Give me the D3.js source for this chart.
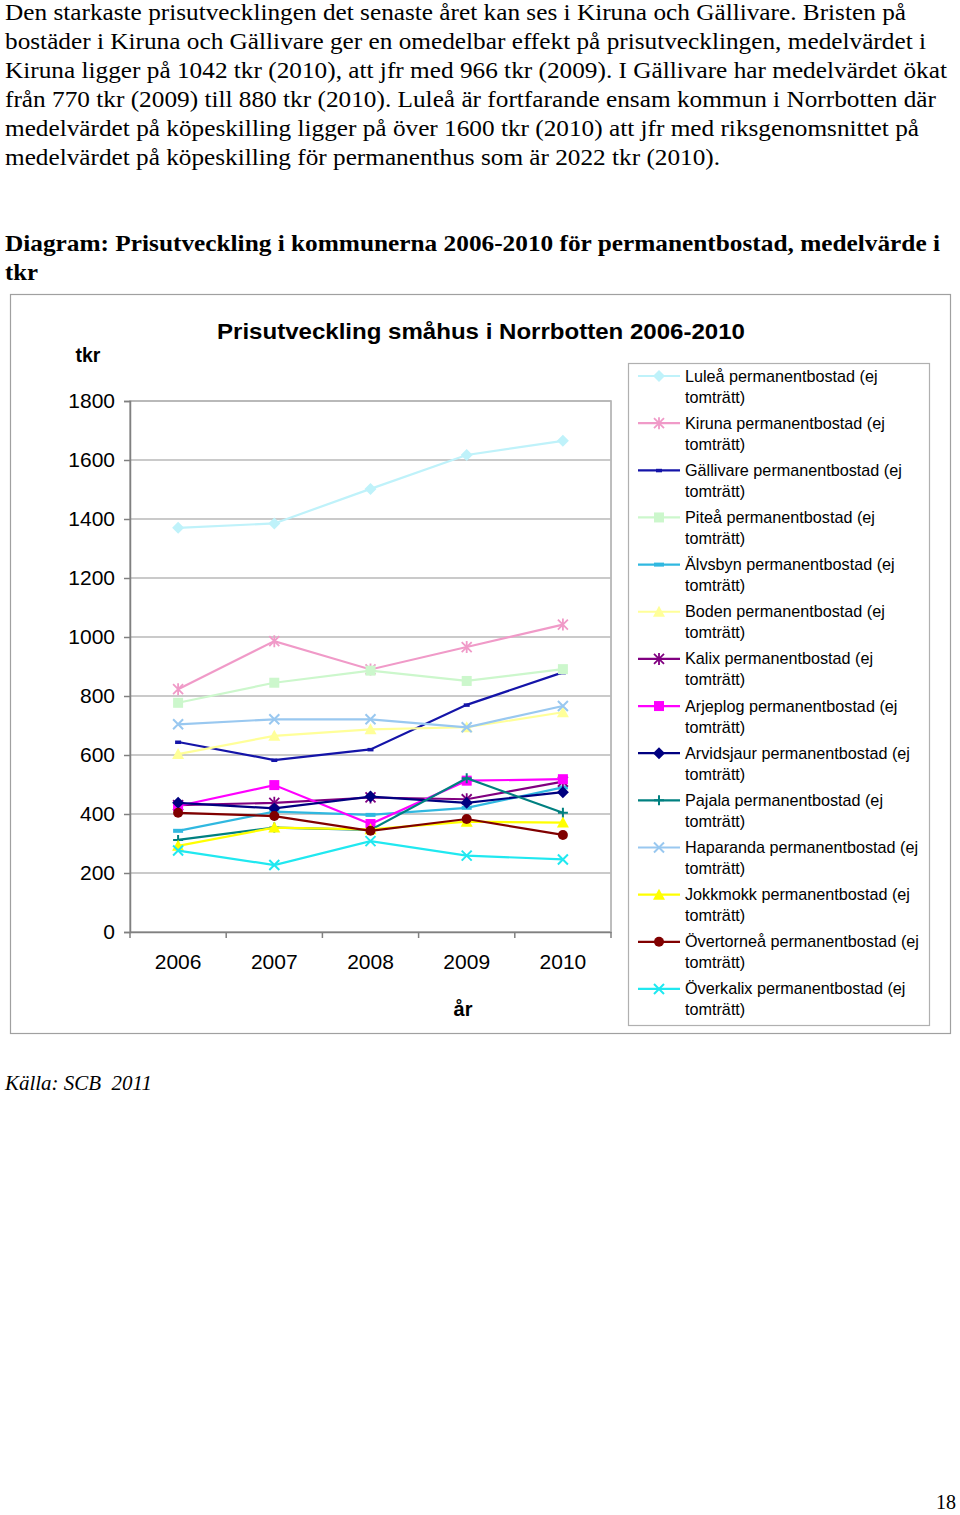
<!DOCTYPE html>
<html><head><meta charset="utf-8">
<script src="https://cdn.jsdelivr.net/npm/d3@7"></script>
<style>body{margin:0;background:#fff}svg{display:block}</style>
</head><body>
<svg id="c" width="960" height="1515"></svg>
<script>
const years = ["2006","2007","2008","2009","2010"];
const yTicks = [0,200,400,600,800,1000,1200,1400,1600,1800];
const seriesNames = ["Luleå","Kiruna","Gällivare","Piteå","Älvsbyn","Boden","Kalix","Arjeplog","Arvidsjaur","Pajala","Haparanda","Jokkmokk","Övertorneå","Överkalix"];
const lulea      = [1370,1385,1502,1617,1665];
const kiruna     = [823,986,890,966,1042];
const gallivare  = [644,583,619,770,880];
const pitea      = [777,845,886,851,891];
const alvsbyn    = [343,408,397,421,490];
const boden      = [603,665,687,694,745];
const kalix      = [430,438,456,450,510];
const arjeplog   = [427,498,366,513,518];
const arvidsjaur = [438,419,459,438,474];
const pajala     = [312,354,346,521,404];
const haparanda  = [704,721,721,694,766];
const jokkmokk   = [292,354,348,374,371];
const overtornea = [404,393,343,383,329];
const overkalix  = [276,227,308,259,246];
const seriesValues = [lulea,kiruna,gallivare,pitea,alvsbyn,boden,kalix,arjeplog,arvidsjaur,pajala,haparanda,jokkmokk,overtornea,overkalix];
const colors = ["#bff2fa","#f09ac8","#1414a8","#ccf7cc","#30b8e0","#ffff99","#800080","#ff00ff","#000080","#008080","#99c8f0","#ffff00","#800000","#20e8f0"];
const markers = ["diamond","asterisk","smalldash","square","dash","triangle","asterisk","square","diamond","plus","x","triangle","circle","x"];

const paragraph = [
 "Den starkaste prisutvecklingen det senaste året kan ses i Kiruna och Gällivare. Bristen på",
 "bostäder i Kiruna och Gällivare ger en omedelbar effekt på prisutvecklingen, medelvärdet i",
 "Kiruna ligger på 1042 tkr (2010), att jfr med 966 tkr (2009). I Gällivare har medelvärdet ökat",
 "från 770 tkr (2009) till 880 tkr (2010). Luleå är fortfarande ensam kommun i Norrbotten där",
 "medelvärdet på köpeskilling ligger på över 1600 tkr (2010) att jfr med riksgenomsnittet på",
 "medelvärdet på köpeskilling för permanenthus som är 2022 tkr (2010)."
];
const paragraphWidths = [901,921,942,931,914,715];
const heading = ["Diagram: Prisutveckling i kommunerna 2006-2010 för permanentbostad, medelvärde i","tkr"];
const headingWidths = [935,33];

const svg = d3.select("#c");
svg.append("rect").attr("width",960).attr("height",1515).attr("fill","#fff");
const serif = "'Liberation Serif','Times New Roman',serif";
const sans = "'Liberation Sans',Arial,sans-serif";

svg.append("g").selectAll("text").data(paragraph).join("text")
  .attr("x",5).attr("y",(d,i)=>20+i*29)
  .attr("textLength",(d,i)=>paragraphWidths[i]).attr("lengthAdjust","spacingAndGlyphs")
  .attr("font-family",serif).attr("font-size",22.5).attr("fill","#000").text(d=>d);
svg.append("g").selectAll("text").data(heading).join("text")
  .attr("x",5).attr("y",(d,i)=>251+i*29)
  .attr("textLength",(d,i)=>headingWidths[i]).attr("lengthAdjust","spacingAndGlyphs")
  .attr("font-family",serif).attr("font-weight","bold").attr("font-size",22.5).attr("fill","#000").text(d=>d);

// chart box
svg.append("rect").attr("x",10.5).attr("y",294.5).attr("width",940).attr("height",739)
  .attr("fill","#fff").attr("stroke","#a0a0a0").attr("stroke-width",1.2);

svg.append("text").attr("x",481).attr("y",339).attr("text-anchor","middle")
  .attr("textLength",528).attr("lengthAdjust","spacingAndGlyphs")
  .attr("font-family",sans).attr("font-weight","bold").attr("font-size",22.5)
  .text("Prisutveckling småhus i Norrbotten 2006-2010");
svg.append("text").attr("x",88).attr("y",362).attr("text-anchor","middle")
  .attr("font-family",sans).attr("font-weight","bold").attr("font-size",19.5).text("tkr");

const x = d3.scaleBand().domain(years).range([130,611]);
const y = d3.scaleLinear().domain([0,1800]).range([932,401]);
const cx = d => x(d)+x.bandwidth()/2;

// plot area border
svg.append("rect").attr("x",130).attr("y",401).attr("width",481).attr("height",531)
  .attr("fill","none").attr("stroke","#a8a8a8").attr("stroke-width",1.5);
// gridlines
svg.append("g").selectAll("line").data(yTicks).join("line")
  .attr("x1",130).attr("x2",611).attr("y1",d=>y(d)).attr("y2",d=>y(d))
  .attr("stroke","#b8b8b8").attr("stroke-width",1.5);

// y axis
const yAxis = svg.append("g").attr("transform","translate(130,0)")
  .call(d3.axisLeft(y).tickValues(yTicks).tickSize(6).tickPadding(9).tickFormat(d3.format("d")));
yAxis.select(".domain").attr("stroke","#808080").attr("stroke-width",1.5);
yAxis.selectAll(".tick line").attr("stroke","#808080").attr("stroke-width",1.5);
yAxis.selectAll("text").attr("font-family",sans).attr("font-size",21).attr("fill","#000");

// x axis
const xAxis = svg.append("g").attr("transform","translate(0,932)")
  .call(d3.axisBottom(x).tickSize(0).tickPadding(22));
xAxis.select(".domain").attr("stroke","#808080").attr("stroke-width",1.5);
xAxis.selectAll("text").attr("font-family",sans).attr("font-size",21).attr("fill","#000");
const bounds = years.map(d=>x(d)).concat([611]);
svg.append("g").selectAll("line").data(bounds).join("line")
  .attr("x1",d=>d).attr("x2",d=>d).attr("y1",932).attr("y2",938)
  .attr("stroke","#808080").attr("stroke-width",1.5);

svg.append("text").attr("x",463).attr("y",1016).attr("text-anchor","middle")
  .attr("font-family",sans).attr("font-weight","bold").attr("font-size",20).text("år");

function drawMarker(g, type, color, px, py){
  const s = 5;
  if(type==="diamond"){
    g.append("path").attr("d",`M${px},${py-s-1}L${px+s+1},${py}L${px},${py+s+1}L${px-s-1},${py}Z`).attr("fill",color);
  } else if(type==="square"){
    g.append("rect").attr("x",px-s).attr("y",py-s).attr("width",2*s).attr("height",2*s).attr("fill",color);
  } else if(type==="triangle"){
    g.append("path").attr("d",`M${px},${py-s-1}L${px+s+1},${py+s}L${px-s-1},${py+s}Z`).attr("fill",color);
  } else if(type==="circle"){
    g.append("circle").attr("cx",px).attr("cy",py).attr("r",s).attr("fill",color);
  } else if(type==="x"){
    g.append("path").attr("d",`M${px-s},${py-s}L${px+s},${py+s}M${px-s},${py+s}L${px+s},${py-s}`).attr("stroke",color).attr("stroke-width",2).attr("fill","none");
  } else if(type==="plus"){
    g.append("path").attr("d",`M${px-s},${py}L${px+s},${py}M${px},${py-s}L${px},${py+s}`).attr("stroke",color).attr("stroke-width",2).attr("fill","none");
  } else if(type==="asterisk"){
    g.append("path").attr("d",`M${px-s},${py-s}L${px+s},${py+s}M${px-s},${py+s}L${px+s},${py-s}M${px},${py-s-1}L${px},${py+s+1}`).attr("stroke",color).attr("stroke-width",1.8).attr("fill","none");
  } else if(type==="dash"){
    g.append("rect").attr("x",px-5).attr("y",py-2).attr("width",10).attr("height",4).attr("fill",color);
  } else if(type==="smalldash"){
    g.append("rect").attr("x",px-3).attr("y",py-1.5).attr("width",6).attr("height",3.5).attr("fill",color);
  }
}

const line = d3.line().x((d,i)=>cx(years[i])).y(d=>y(d));
const plot = svg.append("g");
seriesValues.forEach((vals,si)=>{
  const g = plot.append("g");
  g.append("path").attr("d",line(vals)).attr("fill","none").attr("stroke",colors[si]).attr("stroke-width",2.2);
  vals.forEach((v,i)=>drawMarker(g, markers[si], colors[si], cx(years[i]), y(v)));
});

// legend
svg.append("rect").attr("x",628.5).attr("y",363.5).attr("width",301).attr("height",662)
  .attr("fill","#fff").attr("stroke","#b0b0b0").attr("stroke-width",1.2);
const lg = svg.append("g");
seriesNames.forEach((n,i)=>{
  const ly = 376 + i*47.15;
  const g = lg.append("g");
  g.append("line").attr("x1",638).attr("x2",680).attr("y1",ly).attr("y2",ly).attr("stroke",colors[i]).attr("stroke-width",2.2);
  drawMarker(g, markers[i], colors[i], 659, ly);
  g.append("text").attr("x",685).attr("y",ly+5.5).attr("font-family",sans).attr("font-size",16.2).text(n+" permanentbostad (ej");
  g.append("text").attr("x",685).attr("y",ly+26.5).attr("font-family",sans).attr("font-size",16.2).text("tomträtt)");
});

svg.append("text").attr("x",5).attr("y",1090).attr("textLength",147).attr("lengthAdjust","spacingAndGlyphs")
  .style("white-space","pre")
  .attr("font-family",serif).attr("font-style","italic").attr("font-size",20.5).text("Källa: SCB  2011");
svg.append("text").attr("x",936).attr("y",1509).attr("textLength",20).attr("lengthAdjust","spacingAndGlyphs")
  .attr("font-family",serif).attr("font-size",21).text("18");
</script>
</body></html>
